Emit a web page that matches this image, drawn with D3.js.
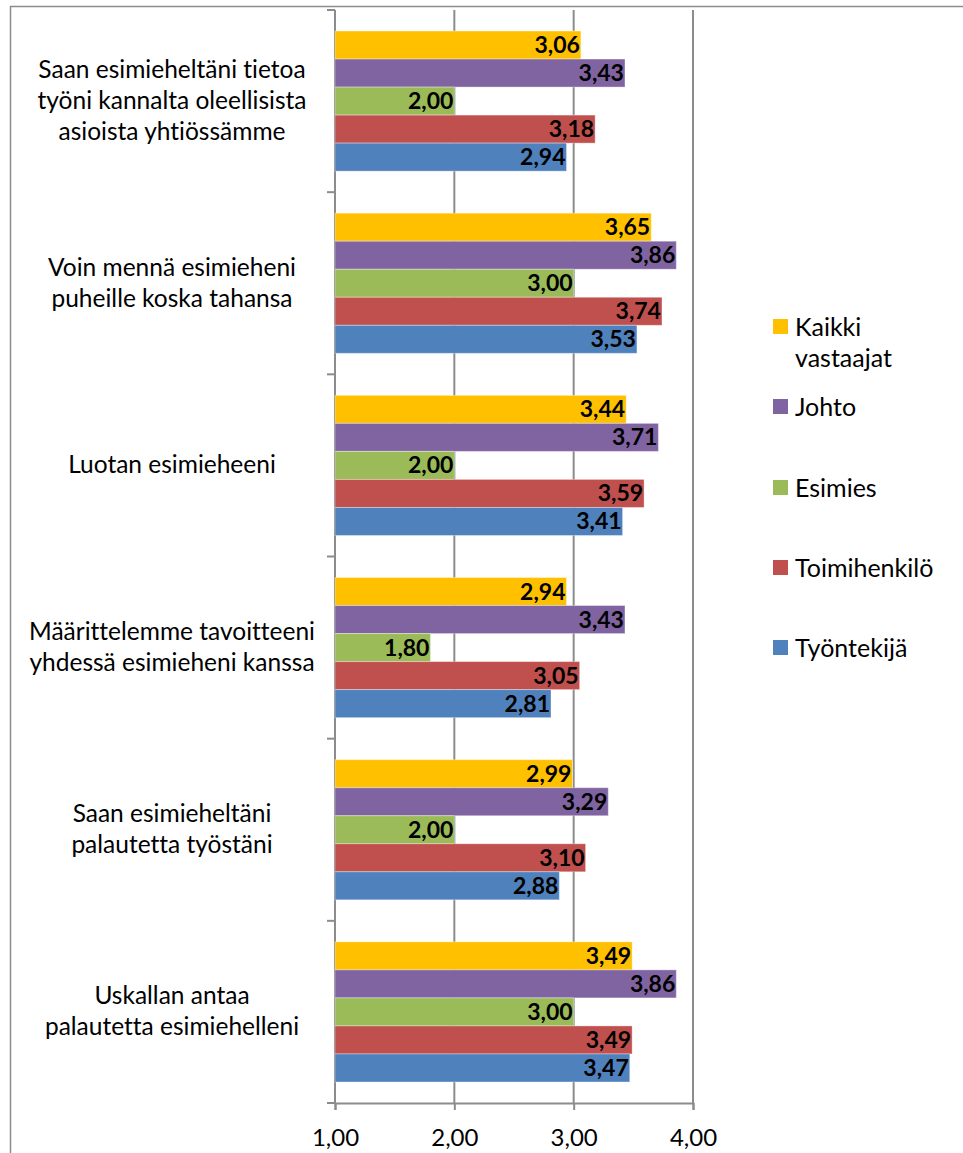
<!DOCTYPE html>
<html>
<head>
<meta charset="utf-8">
<script src="https://cdn.jsdelivr.net/npm/d3@7/dist/d3.min.js"></script>
<style>
  html, body { margin: 0; padding: 0; background: #fff; }
  svg { display: block; }
  text, tspan {
    font-family: Lato, "Open Sans", sans-serif;
    font-variant-ligatures: none;
    font-feature-settings: "liga" 0, "clig" 0, "dlig" 0, "calt" 0;
    text-rendering: optimizeSpeed;
  }
</style>
</head>
<body>
<svg id="chart" width="963" height="1153"></svg>
<script>
// Survey statements (top to bottom), each label split into display lines
const categories = [
  ["Saan esimieheltäni tietoa", "työni kannalta oleellisista", "asioista yhtiössämme"],
  ["Voin mennä esimieheni", "puheille koska tahansa"],
  ["Luotan esimieheeni"],
  ["Määrittelemme tavoitteeni", "yhdessä esimieheni kanssa"],
  ["Saan esimieheltäni", "palautetta työstäni"],
  ["Uskallan antaa", "palautetta esimiehelleni"]
];

// Respondent groups, in the order they are stacked within each category
const seriesNames = ["Kaikki vastaajat", "Johto", "Esimies", "Toimihenkilö", "Työntekijä"];
const seriesColors = ["#FFC000", "#8064A2", "#9BBB59", "#C0504D", "#4F81BD"];

// Mean scores per group, one value per category
const kaikkiVastaajat = [3.06, 3.65, 3.44, 2.94, 2.99, 3.49];
const johto           = [3.43, 3.86, 3.71, 3.43, 3.29, 3.86];
const esimies         = [2.00, 3.00, 2.00, 1.80, 2.00, 3.00];
const toimihenkilo    = [3.18, 3.74, 3.59, 3.05, 3.10, 3.49];
const tyontekija      = [2.94, 3.53, 3.41, 2.81, 2.88, 3.47];

const xTicks = [1, 2, 3, 4];

const seriesValues = [kaikkiVastaajat, johto, esimies, toimihenkilo, tyontekija];

const svg = d3.select("#chart");
const plot = { left: 335, right: 693, top: 10, bottom: 1103 };
const fmt = v => d3.format(".2f")(v).replace(".", ",");
const gridColor = "#8c8c8c";

// Outer chart frame
svg.append("path")
  .attr("d", `M10.5,1153 L10.5,6.5 L963,6.5`)
  .attr("fill", "none")
  .attr("stroke", "#8c8c8c")
  .attr("stroke-width", 1.5);

const x = d3.scaleLinear().domain([1, 4]).range([plot.left, plot.right]);
const y = d3.scaleBand()
  .domain(d3.range(categories.length))
  .range([plot.top, plot.bottom])
  .paddingInner(0)
  .paddingOuter(0);

// Bars occupy 5 / (5 + 1.5) of each category band (gap width 150%)
const groupFrac = 5 / 6.5;
const inner = d3.scaleBand()
  .domain(d3.range(seriesNames.length))
  .range([0, y.bandwidth() * groupFrac]);
const groupOffset = y.bandwidth() * (1 - groupFrac) / 2;

// Vertical gridlines
svg.append("g")
  .selectAll("line")
  .data(xTicks.slice(1))
  .join("line")
  .attr("x1", d => x(d)).attr("x2", d => x(d))
  .attr("y1", plot.top).attr("y2", plot.bottom)
  .attr("stroke", gridColor)
  .attr("stroke-width", 2);

// X axis
const xAxis = svg.append("g")
  .attr("transform", `translate(0,${plot.bottom})`)
  .call(d3.axisBottom(x).tickValues(xTicks).tickFormat(fmt).tickSize(7).tickPadding(19));
xAxis.select(".domain").attr("stroke", gridColor).attr("stroke-width", 2);
xAxis.selectAll(".tick line").attr("stroke", gridColor).attr("stroke-width", 2);
xAxis.selectAll(".tick text")
  .attr("font-size", 24)
  .attr("fill", "#000")
  .style("font-family", "Lato, sans-serif");

// Y axis with tick marks on category boundaries
const yAxisG = svg.append("g");
yAxisG.append("line")
  .attr("x1", plot.left).attr("x2", plot.left)
  .attr("y1", plot.top).attr("y2", plot.bottom)
  .attr("stroke", gridColor).attr("stroke-width", 2);
yAxisG.selectAll("line.tick")
  .data(d3.range(categories.length + 1))
  .join("line")
  .attr("class", "tick")
  .attr("x1", plot.left - 8).attr("x2", plot.left)
  .attr("y1", d => d < categories.length ? y(d) : plot.bottom)
  .attr("y2", d => d < categories.length ? y(d) : plot.bottom)
  .attr("stroke", gridColor).attr("stroke-width", 2);

// Category labels
const lineH = 31;
svg.append("g")
  .selectAll("text")
  .data(categories)
  .join("text")
  .attr("text-anchor", "middle")
  .attr("font-size", 24.5)
  .attr("fill", "#000")
  .each(function(lines, i) {
    const cy = y(i) + y.bandwidth() / 2;
    const startY = cy - (lines.length - 1) * lineH / 2 + 8;
    d3.select(this).selectAll("tspan")
      .data(lines)
      .join("tspan")
      .attr("x", 172)
      .attr("y", (d, j) => startY + j * lineH)
      .text(d => d);
  });

// Bars and value labels
const barData = [];
categories.forEach((c, ci) => {
  seriesValues.forEach((vals, si) => {
    barData.push({ ci, si, v: vals[ci] });
  });
});

const bars = svg.append("g");
bars.selectAll("rect")
  .data(barData)
  .join("rect")
  .attr("x", x(1))
  .attr("y", d => y(d.ci) + groupOffset + inner(d.si))
  .attr("width", d => x(d.v) - x(1))
  .attr("height", inner.bandwidth())
  .attr("fill", d => seriesColors[d.si])
  .attr("stroke", "rgba(255,255,255,0.35)")
  .attr("stroke-width", 1);

bars.selectAll("text")
  .data(barData)
  .join("text")
  .attr("x", d => x(d.v) - 1)
  .attr("y", d => y(d.ci) + groupOffset + inner(d.si) + inner.bandwidth() / 2 + 8)
  .attr("text-anchor", "end")
  .attr("font-size", 23)
  .attr("font-weight", "bold")
  .attr("fill", "#000")
  .text(d => fmt(d.v));

// Legend
const legendY = [327, 407, 488, 568, 648];
const legend = svg.append("g");
seriesNames.forEach((name, i) => {
  legend.append("rect")
    .attr("x", 773).attr("y", legendY[i] - 8)
    .attr("width", 15).attr("height", 15)
    .attr("fill", seriesColors[i]);
  const parts = name === "Kaikki vastaajat" ? ["Kaikki", "vastaajat"] : [name];
  const t = legend.append("text")
    .attr("font-size", 25)
    .attr("fill", "#000");
  parts.forEach((p, j) => {
    t.append("tspan")
      .attr("x", 795)
      .attr("y", legendY[i] + 9 + j * 31)
      .text(p);
  });
});
</script>
</body>
</html>
